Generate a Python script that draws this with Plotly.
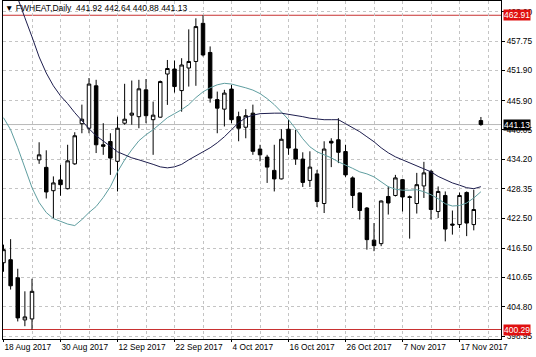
import plotly.graph_objects as go

# ---- data -------------------------------------------------------------
dates = ["2017-08-18", "2017-08-21", "2017-08-22", "2017-08-23", "2017-08-24", "2017-08-25",
         "2017-08-28", "2017-08-29", "2017-08-30", "2017-08-31", "2017-09-01", "2017-09-05",
         "2017-09-06", "2017-09-07", "2017-09-08", "2017-09-11", "2017-09-12", "2017-09-13",
         "2017-09-14", "2017-09-15", "2017-09-18", "2017-09-19", "2017-09-20", "2017-09-21",
         "2017-09-22", "2017-09-25", "2017-09-26", "2017-09-27", "2017-09-28", "2017-09-29",
         "2017-10-02", "2017-10-03", "2017-10-04", "2017-10-05", "2017-10-06", "2017-10-09",
         "2017-10-10", "2017-10-11", "2017-10-12", "2017-10-13", "2017-10-16", "2017-10-17",
         "2017-10-18", "2017-10-19", "2017-10-20", "2017-10-23", "2017-10-24", "2017-10-25",
         "2017-10-26", "2017-10-27", "2017-10-30", "2017-10-31", "2017-11-01", "2017-11-02",
         "2017-11-03", "2017-11-06", "2017-11-07", "2017-11-08", "2017-11-09", "2017-11-10",
         "2017-11-13", "2017-11-14", "2017-11-15", "2017-11-16", "2017-11-17", "2017-11-20",
         "2017-11-21", "2017-11-22"]

open_ = [413.6, 414.2, 410.6, 402.2, 402.4, 434.1, 432.6, 427.95, 430.1, 428.35,
         433.3, 441.3, 440.4, 448.85, 437.1, 437.75, 433.8, 441.4, 443.0, 442.7,
         448.05, 442.1, 442.6, 451.2, 452.2, 447.9, 452.4, 453.7, 461.3, 455.5,
         446.1, 444.2, 448.2, 442.7, 440.6, 443.4, 436.25, 434.65, 432.0, 430.3,
         440.2, 436.25, 434.25, 430.0, 431.3, 425.4, 437.8, 438.1, 435.75, 430.5,
         427.5, 424.5, 418.1, 417.4, 426.8, 427.0, 430.15, 426.75, 425.4, 428.9,
         431.8, 423.8, 427.0, 421.3, 421.2, 427.6, 421.2, 441.92]
high = [417.2, 418.3, 412.4, 407.9, 410.4, 437.6, 436.0, 430.8, 433.1, 437.1,
        439.6, 445.1, 450.4, 450.05, 441.4, 439.4, 442.7, 449.25, 449.9, 450.05,
        450.2, 445.7, 449.9, 454.0, 453.9, 454.35, 460.1, 462.3, 462.91, 456.7,
        447.7, 448.05, 449.05, 443.7, 444.2, 445.1, 437.1, 435.1, 437.1, 440.2,
        442.1, 440.1, 435.6, 435.8, 432.1, 437.8, 438.4, 442.4, 437.1, 430.8,
        427.6, 424.7, 421.5, 426.0, 428.8, 431.1, 430.3, 427.0, 431.5, 433.7,
        432.1, 428.8, 427.8, 424.0, 427.6, 427.8, 428.15, 442.64]
low = [411.8, 408.25, 401.9, 400.95, 400.29, 433.3, 426.4, 422.5, 426.95, 428.2,
       433.1, 439.4, 439.4, 435.45, 435.1, 431.1, 427.8, 441.1, 441.1, 440.4,
       441.4, 435.1, 442.5, 445.05, 447.5, 443.7, 448.7, 448.85, 454.7, 445.5,
       439.4, 440.75, 441.4, 437.8, 438.4, 435.1, 433.8, 429.5, 427.8, 430.2,
       435.1, 433.1, 428.7, 428.7, 424.7, 423.5, 432.65, 433.45, 430.7, 424.5,
       422.2, 416.2, 415.9, 416.9, 423.2, 426.8, 423.8, 418.4, 423.4, 426.5,
       422.2, 422.5, 417.85, 419.2, 420.5, 418.9, 420.05, 440.88]
close = [416.2, 409.0, 402.6, 402.8, 407.9, 435.1, 427.7, 429.5, 429.15, 433.9,
         438.9, 442.2, 449.2, 437.1, 436.8, 434.45, 440.4, 442.2, 443.4, 448.25,
         442.9, 443.0, 449.7, 452.3, 448.7, 453.0, 453.7, 460.65, 455.0, 446.4,
         444.4, 447.4, 442.1, 440.4, 442.9, 435.8, 435.1, 432.65, 430.3, 438.2,
         436.45, 434.25, 429.6, 432.65, 425.8, 436.25, 437.45, 435.6, 431.1, 427.0,
         424.0, 418.2, 417.0, 425.9, 425.5, 430.5, 426.7, 426.6, 429.15, 431.5,
         424.2, 427.8, 420.3, 421.1, 427.0, 421.5, 424.2, 441.13]

ma_fast = [442.5, 440.1, 436.5, 432.5, 428.55, 425.6, 423.6, 422.4, 421.8, 421.3,
           421.0, 422.2, 423.6, 424.8, 426.6, 428.75, 431.7, 434.1, 436.1, 437.9,
           439.1, 440.1, 441.3, 442.5, 443.3, 444.1, 445.1, 446.5, 447.65, 448.45,
           449.05, 449.35, 449.2, 448.85, 448.45, 448.0, 447.3, 446.3, 445.1, 443.65,
           442.1, 440.3, 438.3, 436.7, 435.7, 435.1, 434.5, 433.7, 433.1, 432.4,
           431.7, 431.3, 430.7, 429.7, 428.75, 428.25, 428.05, 428.05, 428.15, 427.75,
           427.15, 426.35, 425.35, 424.9, 425.0, 425.5, 426.5, 427.75]
ma_slow = [474.1, 470.1, 466.3, 462.4, 458.6, 454.6, 451.4, 448.85, 446.85, 445.3,
           443.5, 441.8, 440.3, 438.9, 437.9, 436.8, 435.7, 435.1, 434.5, 434.1,
           433.7, 433.2, 432.7, 432.5, 432.7, 433.2, 434.1, 434.9, 435.7, 436.5,
           437.5, 438.7, 440.1, 441.5, 442.5, 443.0, 443.3, 443.4, 443.4, 443.4,
           443.2, 442.9, 442.7, 442.4, 442.2, 442.1, 442.1, 442.1, 441.3, 440.5,
           439.7, 438.7, 437.7, 436.5, 435.5, 434.7, 434.1, 433.5, 432.9, 432.4,
           431.7, 430.8, 430.1, 429.5, 429.05, 428.55, 428.35, 428.75]

tick_labels = ["18 Aug 2017", "30 Aug 2017", "12 Sep 2017", "22 Sep 2017", "4 Oct 2017",
               "16 Oct 2017", "26 Oct 2017", "7 Nov 2017", "17 Nov 2017"]
price_ticks = [463.60, 457.75, 451.90, 445.90, 440.05, 434.20, 428.35,
               422.50, 416.50, 410.65, 404.80, 398.95]
level_high = 462.91
level_low = 400.29
bid = 441.13
title_text = "FWHEAT,Daily  441.92 442.64 440.88 441.13"

# ---- figure -----------------------------------------------------------
x = list(range(len(dates)))
FONT = "Liberation Sans"
GRID = "#c4c4c4"

fig = go.Figure()
fig.add_trace(go.Scatter(x=x, y=ma_fast, mode="lines",
                         line=dict(color="#5f9ea0", width=1), hoverinfo="skip"))
fig.add_trace(go.Scatter(x=x, y=ma_slow, mode="lines",
                         line=dict(color="#1e1e4e", width=1), hoverinfo="skip"))
fig.add_trace(go.Candlestick(
    x=x, open=open_, high=high, low=low, close=close,
    increasing=dict(line=dict(color="black", width=1), fillcolor="white"),
    decreasing=dict(line=dict(color="black", width=1), fillcolor="black"),
    whiskerwidth=0, hoverinfo="skip"))

for lvl in (level_high, level_low):
    fig.add_shape(type="line", xref="paper", x0=0, x1=1, yref="y", y0=lvl, y1=lvl,
                  line=dict(color="#c83232", width=1), layer="below")
fig.add_shape(type="line", xref="paper", x0=0, x1=1, yref="y", y0=bid, y1=bid,
              line=dict(color="#b8b8b8", width=1), layer="below")

for val, bg in ((level_high, "#e01010"), (level_low, "#e01010"), (bid, "#000000")):
    fig.add_annotation(xref="paper", x=1, xanchor="left", xshift=2, yref="y", y=val,
                       yanchor="middle", text=f"{val:.2f}", showarrow=False,
                       bgcolor=bg, borderpad=0,
                       font=dict(family=FONT, size=8.5, color="white"))

fig.add_annotation(xref="paper", yref="paper", x=0, y=1, xanchor="left", yanchor="top",
                   xshift=0, yshift=0, showarrow=False,
                   text="\u25BC " + title_text,
                   font=dict(family=FONT, size=8.5, color="black"))

n = len(dates)
fig.update_layout(
    width=536, height=357,
    margin=dict(l=3, r=35, t=1, b=18),
    paper_bgcolor="white", plot_bgcolor="white",
    showlegend=False,
    font=dict(family=FONT, size=8.3, color="black"),
    xaxis=dict(range=[-0.07, 69.82], rangeslider=dict(visible=False),
               tickmode="array", tickvals=list(range(0, n, 8)), ticktext=tick_labels,
               ticks="outside", ticklen=2, tickcolor="black",
               ticklabelposition="outside right",
               showgrid=True, gridcolor=GRID, griddash="3px,3px", gridwidth=1,
               minor=dict(tickvals=list(range(4, n + 4, 8)), showgrid=True,
                          gridcolor=GRID, griddash="3px,3px", ticks=""),
               showline=True, mirror=True, linecolor="black", linewidth=1,
               zeroline=False, fixedrange=True, automargin=False),
    yaxis=dict(side="right", range=[398.4, 465.75],
               tickmode="array", tickvals=price_ticks,
               ticktext=[f"{v:.2f}" for v in price_ticks],
               ticks="outside", ticklen=3, tickcolor="black",
               showgrid=True, gridcolor=GRID, griddash="3px,3px", gridwidth=1,
               showline=True, mirror=True, linecolor="black", linewidth=1,
               zeroline=False, fixedrange=True, automargin=False),
)

fig.write_html("out.html", config={"displayModeBar": False},
               post_script="document.body.style.margin='0';document.body.style.overflow='hidden';")
